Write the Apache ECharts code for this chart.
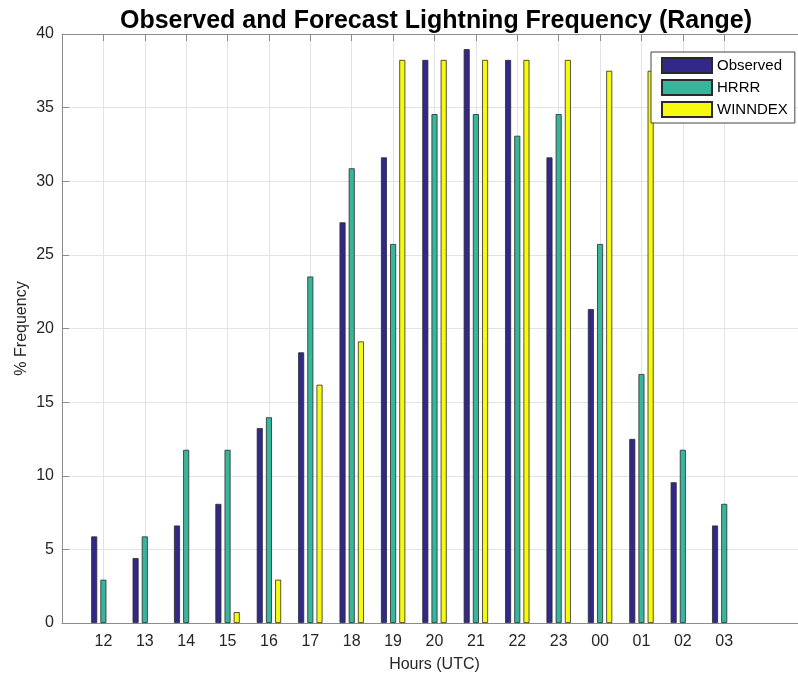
<!DOCTYPE html>
<html>
<head>
<meta charset="utf-8">
<script src="https://cdn.jsdelivr.net/npm/echarts@6/dist/echarts.min.js"></script>
<style>
  html, body { margin: 0; padding: 0; background: #fff; }
  #chart { width: 798px; height: 679px; }
</style>
</head>
<body>
<div id="chart"></div>
<script>
const hours = ['12','13','14','15','16','17','18','19','20','21','22','23','00','01','02','03'];
const observed = [5.88, 4.41, 6.62, 8.09, 13.24, 18.38, 27.21, 31.62, 38.24, 38.97, 38.24, 31.62, 21.32, 12.5, 9.56, 6.62];
const hrrr     = [2.94, 5.88, 11.76, 11.76, 13.97, 23.53, 30.88, 25.74, 34.56, 34.56, 33.09, 34.56, 25.74, 16.91, 11.76, 8.09];
const winndex  = [0, 0, 0, 0.74, 2.94, 16.18, 19.12, 38.24, 38.24, 38.24, 38.24, 38.24, 37.5, 37.5, 0, 0];
const yTicks = [0, 5, 10, 15, 20, 25, 30, 35, 40];

const fontFamily = '"Liberation Sans", Arial, Helvetica, sans-serif';
const axisColor = '#8c8c8c';
const textColor = '#262626';

// pad the axis: one empty slot before 12, two after 03 (plot box runs past the image edge)
// zero bars are not drawn at all in the original
const xCats = ['', ...hours, '', ''];
const pad = (arr) => [null, ...arr.map(v => v === 0 ? null : v), null, null];
const isHour = (i) => i >= 1 && i <= hours.length;

const chart = echarts.init(document.getElementById('chart'), null, { renderer: 'canvas' });

const barStyle = (color) => ({ color, borderColor: '#2a2a2a', borderWidth: 0.8 });

const option = {
  backgroundColor: '#fff',
  animation: false,
  textStyle: { fontFamily, color: textColor },
  title: {
    text: 'Observed and Forecast Lightning Frequency (Range)',
    left: 431, top: 4, textAlign: 'center',
    textStyle: { fontFamily, fontSize: 25, fontWeight: 'bold', color: '#000' }
  },
  legend: {
    orient: 'vertical',
    left: 651, top: 52,
    backgroundColor: '#fff',
    borderColor: '#444', borderWidth: 1, borderRadius: 0,
    padding: [5, 7, 5, 10],
    itemWidth: 50, itemHeight: 15, itemGap: 5,
    icon: 'rect',
    textStyle: { fontFamily, fontSize: 15, color: '#000' },
    data: ['Observed', 'HRRR', 'WINNDEX']
  },
  grid: { left: 62, top: 34, width: 745, height: 589, outerBoundsMode: 'none', containLabel: false },
  xAxis: [{
    type: 'category', data: xCats, boundaryGap: false,
    axisLine: { show: true, lineStyle: { color: axisColor, width: 1 } },
    axisTick: { show: true, inside: true, length: 7, interval: (i) => isHour(i), lineStyle: { color: axisColor } },
    axisLabel: { interval: (i) => isHour(i), fontSize: 16, color: textColor, margin: 11, fontFamily },
    splitLine: { show: true, interval: (i) => isHour(i), lineStyle: { color: '#e3e3e3', width: 1 } },
    name: 'Hours (UTC)', nameLocation: 'middle', nameGap: 34,
    nameTextStyle: { fontSize: 16, color: textColor, fontFamily }
  }, {
    type: 'category', data: xCats, boundaryGap: false, position: 'top',
    axisLine: { show: true, lineStyle: { color: axisColor, width: 1 } },
    axisTick: { show: true, inside: true, length: 7, interval: (i) => isHour(i), lineStyle: { color: axisColor } },
    axisLabel: { show: false },
    splitLine: { show: false }
  }],
  yAxis: {
    type: 'value', min: yTicks[0], max: yTicks[yTicks.length - 1], interval: 5,
    axisLine: { show: true, lineStyle: { color: axisColor, width: 1 } },
    axisTick: { show: true, inside: true, length: 7, lineStyle: { color: axisColor } },
    axisLabel: { fontSize: 16, color: textColor, margin: 8, fontFamily },
    splitLine: { show: true, lineStyle: { color: '#e3e3e3', width: 1 } },
    name: '% Frequency', nameLocation: 'middle', nameGap: 32, nameRotate: 90, nameMoveOverlap: false,
    nameTextStyle: { fontSize: 16, color: textColor, fontFamily }
  },
  series: [
    { name: 'Observed', type: 'bar', data: pad(observed), barWidth: 6, barGap: '53%', itemStyle: barStyle('#32288a') },
    { name: 'HRRR', type: 'bar', data: pad(hrrr), barWidth: 6, barGap: '53%', itemStyle: barStyle('#36b79c') },
    { name: 'WINNDEX', type: 'bar', data: pad(winndex), barWidth: 6, barGap: '53%', itemStyle: barStyle('#f8fa0d') }
  ]
};

chart.setOption(option);
</script>
</body>
</html>
